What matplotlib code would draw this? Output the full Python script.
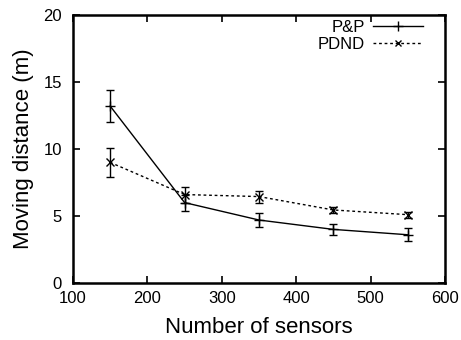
import matplotlib
matplotlib.use("Agg")
import matplotlib.pyplot as plt
from matplotlib.lines import Line2D

plt.rcParams['font.family'] = ['Liberation Sans', 'DejaVu Sans']

sensors = [150, 250, 350, 450, 550]
pp_mean = [13.2, 6.0, 4.7, 4.0, 3.6]
pp_err = [1.2, 0.6, 0.55, 0.4, 0.5]
pdnd_mean = [9.0, 6.6, 6.45, 5.45, 5.1]
pdnd_err = [1.1, 0.6, 0.45, 0.25, 0.22]

fig = plt.figure(figsize=(4.61, 3.40), dpi=100)
ax = fig.add_axes([73/461, 1-283/340, (445-73)/461, (283-15)/340])

ax.errorbar(sensors, pp_mean, yerr=pp_err, color='black', lw=1.0, marker='+',
            ms=7, mew=1.0, capsize=3, elinewidth=1.0, capthick=1.0)
ax.errorbar(sensors, pdnd_mean, yerr=pdnd_err, color='black', lw=1.0, ls=(0, (2, 2)),
            marker='x', ms=6, mew=1.0, capsize=3, elinewidth=1.0, capthick=1.0)

h1 = Line2D([], [], color='black', lw=1.0, marker='+', ms=7, mew=1.0)
h2 = Line2D([], [], color='black', lw=1.0, ls=(0, (2, 2)), marker='x', ms=5, mew=1.0)
ax.legend([h1, h2], ['P&P', 'PDND'], loc='upper right', bbox_to_anchor=(0.955, 1.0),
          frameon=False, markerfirst=False, fontsize=12, handlelength=3.0, borderpad=0.1,
          labelspacing=0.1, handletextpad=0.5, borderaxespad=0.2)

ax.set_xlim(100, 600)
ax.set_ylim(0, 20)
ax.set_xticks([100, 200, 300, 400, 500, 600])
ax.set_yticks([0, 5, 10, 15, 20])
ax.tick_params(direction='in', top=True, right=True, length=5, width=1.2, labelsize=12)
ax.tick_params(axis='y', pad=8)
ax.tick_params(axis='x', pad=6)
for s in ax.spines.values():
    s.set_linewidth(1.8)
ax.set_xlabel('Number of sensors', fontsize=16, labelpad=8)
ax.set_ylabel('Moving distance (m)', fontsize=16, labelpad=7)

fig.savefig('out.png', dpi=100)
